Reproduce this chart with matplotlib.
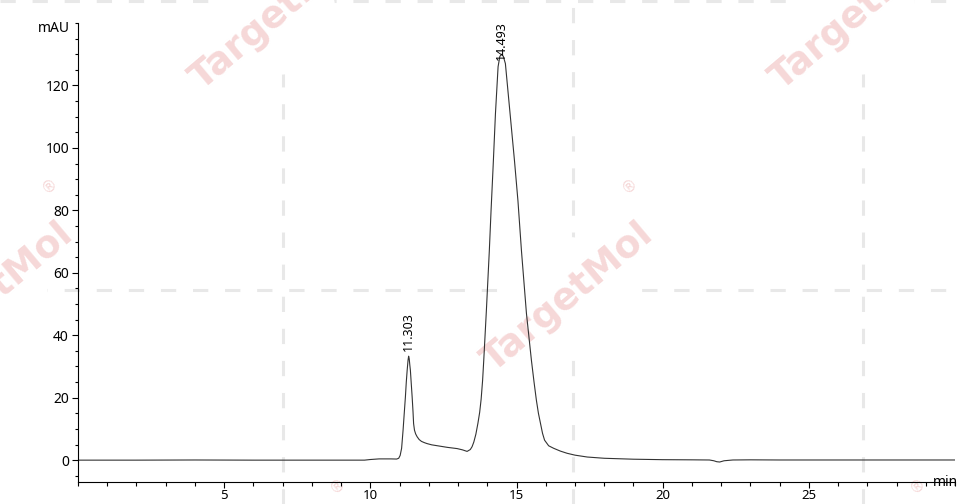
import matplotlib
matplotlib.use("Agg")
import matplotlib.pyplot as plt
from matplotlib.lines import Line2D
from matplotlib.patches import Circle
from matplotlib.ticker import MultipleLocator

# chromatogram (time in min, signal in mAU)
time_min = [0.0, 2.0, 4.0, 6.0, 8.0, 9.8, 10.0, 10.3, 10.7, 10.9, 10.97, 11.02,
            11.07, 11.12, 11.16, 11.20, 11.23, 11.26, 11.29, 11.31, 11.33, 11.35,
            11.37, 11.40, 11.43, 11.46, 11.48, 11.51, 11.55, 11.60, 11.67, 11.75,
            11.85, 11.94, 12.1, 12.3, 12.63, 12.97, 13.15, 13.31, 13.42, 13.48,
            13.54, 13.61, 13.68, 13.74, 13.79, 13.84, 13.88, 13.97, 14.07, 14.13,
            14.20, 14.28, 14.37, 14.43, 14.49, 14.55, 14.62, 14.7, 14.8, 14.93,
            15.05, 15.17, 15.34, 15.51, 15.6, 15.68, 15.75, 15.82, 15.89, 15.96,
            16.1, 16.27, 16.5, 16.73, 17.0, 17.42, 18.0, 19.0, 20.0, 21.0, 21.6,
            21.75, 21.85, 21.95, 22.1, 22.4, 23.0, 24.0, 25.0, 26.0, 27.0, 28.0,
            29.0, 30.0]
signal_mau = [0.0, 0.0, 0.05, 0.0, 0.0, 0.0, 0.2, 0.4, 0.4, 0.35, 0.6, 1.5,
              3.8, 9.6, 15.0, 20.3, 25.0, 28.8, 32.0, 33.3, 32.5, 30.5,
              28.8, 24.5, 20.3, 15.5, 11.7, 9.6, 8.4, 7.5, 6.6, 6.0,
              5.6, 5.3, 4.9, 4.6, 4.1, 3.7, 3.3, 2.8, 3.4, 4.3,
              5.8, 8.3, 11.8, 15.3, 19.5, 25.5, 32.0, 48.0, 67.0, 80.0,
              94.0, 111.0, 126.0, 129.3, 130.0, 129.3, 127.0, 119.0, 109.0, 96.0,
              83.0, 67.0, 47.0, 32.0, 25.0, 19.2, 15.0, 11.8, 8.6, 6.4,
              4.6, 3.8, 2.9, 2.2, 1.6, 1.0, 0.6, 0.3, 0.15, 0.1, 0.05,
              -0.2, -0.5, -0.6, -0.2, 0.05, 0.1, 0.05, 0.05, 0.05, 0.05, 0.05,
              0.05, 0.05]

peak_times = [11.303, 14.493]
peak_heights = [33.3, 130.0]
peak_labels = ["11.303", "14.493"]

W, H = 960, 504
fig = plt.figure(figsize=(W / 100, H / 100), dpi=100)

# watermark: dashed grid broken by the rotated logo text
wm_centers = [(276, 15), (856, 15), (568, 297), (-12, 297), (276, 597), (856, 597)]
grid_x = [283, 573, 863]
grid_y = [1, 290]
for gx in grid_x:
    fig.add_artist(Line2D([gx / W, gx / W], [0, 1], transform=fig.transFigure,
                          color="#e8e8e8", lw=2.2, dashes=(5, 5.5), zorder=-3))
for gy in grid_y:
    fig.add_artist(Line2D([0, 1], [1 - gy / H, 1 - gy / H], transform=fig.transFigure,
                          color="#e8e8e8", lw=2.2, dashes=(5, 5.5), zorder=-3))
for cx, cy in wm_centers:
    fig.add_artist(Circle((cx / 100, (H - cy) / 100), 0.6, transform=fig.dpi_scale_trans,
                          facecolor="white", edgecolor="none", zorder=-2))
    fig.text(cx / W, 1 - cy / H, "TargetMol", rotation=40, rotation_mode="anchor",
             ha="center", va="center", fontsize=27, fontweight="bold",
             color="#f6d8d8", family="DejaVu Sans", zorder=-1)
    fig.text((cx + 62) / W, 1 - (cy - 112) / H, "®", rotation=40, ha="center",
             va="center", fontsize=11, color="#f6d8d8", zorder=-1)

ax = fig.add_axes([78 / W, 22 / H, (955 - 78) / W, (482 - 23) / H])
ax.set_facecolor("none")
ax.plot(time_min, signal_mau, color="#333333", lw=0.8)

for t, h, lab in zip(peak_times, peak_heights, peak_labels):
    ax.text(t, min(h + 1.5, 128), lab, rotation=90, ha="center", va="bottom",
            fontsize=9, family="Noto Sans")

ax.set_xlim(0, 30)
ax.set_ylim(-7, 140)
ax.set_xticks([5, 10, 15, 20, 25])
ax.set_yticks([0, 20, 40, 60, 80, 100, 120])
ax.xaxis.set_minor_locator(MultipleLocator(1))
ax.yaxis.set_minor_locator(MultipleLocator(5))
for s in ["top", "right"]:
    ax.spines[s].set_visible(False)
for s in ["left", "bottom"]:
    ax.spines[s].set_linewidth(0.8)
ax.tick_params(which="major", axis="x", length=4, width=0.8, pad=1)
ax.tick_params(which="minor", axis="x", length=3, width=0.8)
ax.tick_params(which="major", axis="y", length=4.5, width=0.8, pad=2)
ax.tick_params(which="minor", axis="y", length=2.5, width=0.8)
for lbl in ax.get_yticklabels():
    lbl.set_family("Noto Sans")
    lbl.set_fontsize(10)
for lbl in ax.get_xticklabels():
    lbl.set_family("Noto Sans")
    lbl.set_fontsize(9.5)

fig.text(70 / W, 1 - 29 / H, "mAU", ha="right", va="center", fontsize=10, family="Noto Sans")
fig.text(958 / W, 1 - 482 / H, "min", ha="right", va="center", fontsize=10, family="Noto Sans")

fig.savefig("out.png", dpi=100)
